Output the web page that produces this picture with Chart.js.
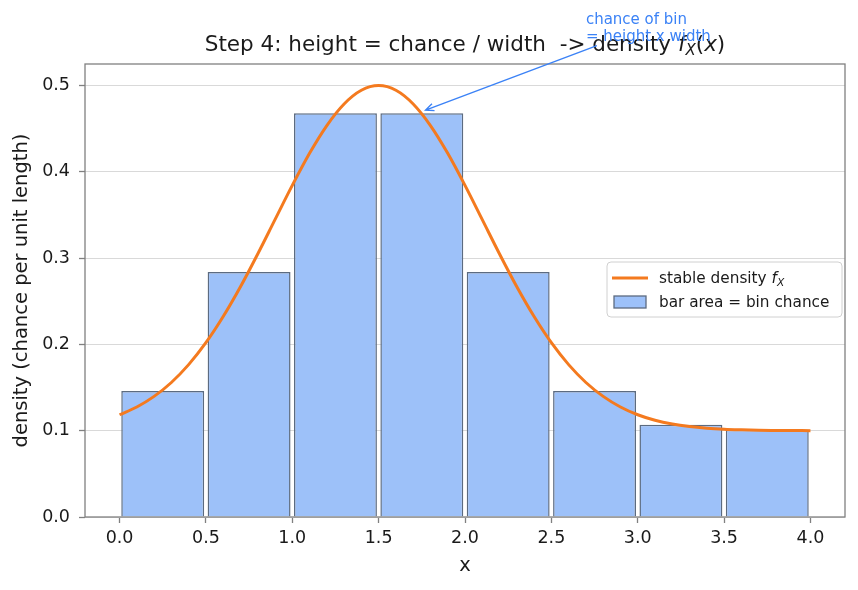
<!DOCTYPE html>
<html>
<head>
<meta charset="utf-8">
<script src="https://cdn.jsdelivr.net/npm/chart.js@4/dist/chart.umd.min.js"></script>
<style>
  html, body { margin: 0; padding: 0; background: #ffffff; }
  #wrap { width: 858px; height: 590px; position: relative; }
</style>
</head>
<body>
<div id="wrap"><canvas id="c" width="858" height="590"></canvas></div>
<script>
// ---- data ----
const binCenters = [0.25, 0.75, 1.25, 1.75, 2.25, 2.75, 3.25, 3.75];
const barHeights = [0.146, 0.284, 0.468, 0.468, 0.284, 0.146, 0.107, 0.101];
const curveX = [0.0, 0.1, 0.2, 0.3, 0.4, 0.5, 0.6, 0.7, 0.8, 0.9,
                1.0, 1.1, 1.2, 1.3, 1.4, 1.5, 1.6, 1.7, 1.8, 1.9,
                2.0, 2.1, 2.2, 2.3, 2.4, 2.5, 2.6, 2.7, 2.8, 2.9,
                3.0, 3.1, 3.2, 3.3, 3.4, 3.5, 3.6, 3.7, 3.8, 3.9, 4.0];
const curveY = [0.1185, 0.1275, 0.1398, 0.1559, 0.1766, 0.2020, 0.2323, 0.2668, 0.3048, 0.3446,
                0.3843, 0.4215, 0.4537, 0.4787, 0.4946, 0.5000, 0.4946, 0.4787, 0.4537, 0.4215,
                0.3843, 0.3446, 0.3048, 0.2668, 0.2323, 0.2020, 0.1766, 0.1559, 0.1398, 0.1275,
                0.1185, 0.1121, 0.1077, 0.1048, 0.1029, 0.1017, 0.1010, 0.1005, 0.1003, 0.1002, 0.1001];
const xTicks = [0.0, 0.5, 1.0, 1.5, 2.0, 2.5, 3.0, 3.5, 4.0];
const yTicks = [0.0, 0.1, 0.2, 0.3, 0.4, 0.5];
const annotationPoint = [1.75, 0.47];
const annotationTextPos = [2.7, 0.552];
const annotationLines = ['chance of bin', '= height x width'];

// ---- styles ----
const FONT = "'DejaVu Sans', 'Liberation Sans', sans-serif";
const TEXT = '#1a1a1a';
const ORANGE = '#f47a1f';
const BAR_FILL = '#9dc1f9';
const BAR_EDGE = '#5c6b80';
const BLUE = '#3b82f6';
const SPINE = '#808080';

Chart.defaults.font.family = FONT;
Chart.defaults.color = TEXT;

function drawMixed(ctx, parts, x, y, align) {
  let total = 0;
  const widths = parts.map(p => { ctx.font = p[1]; const w = ctx.measureText(p[0]).width; total += w; return w; });
  let cx = align === 'center' ? x - total / 2 : x;
  parts.forEach((p, i) => {
    ctx.font = p[1];
    ctx.fillText(p[0], cx, y + (p[2] || 0));
    cx += widths[i];
  });
}

const decorPlugin = {
  id: 'decor',
  afterDatasetsDraw(chart) {
    const ctx = chart.ctx;
    const a = chart.chartArea;
    const xs = chart.scales.x, ys = chart.scales.y;
    ctx.save();
    // frame
    ctx.strokeStyle = SPINE;
    ctx.lineWidth = 1.3;
    ctx.strokeRect(a.left, a.top, a.right - a.left, a.bottom - a.top);

    // title
    ctx.fillStyle = TEXT;
    ctx.textBaseline = 'alphabetic';
    ctx.textAlign = 'left';
    const tf = "21.5px " + FONT, ti = "italic 21.5px " + FONT, ts = "italic 15px " + FONT;
    drawMixed(ctx, [
      ['Step 4: height = chance / width  -> density ', tf, 0],
      ['f', ti, 0], ['X', ts, 4], ['(', tf, 0], ['x', ti, 0], [')', tf, 0]
    ], (a.left + a.right) / 2, 51, 'center');

    // annotation text
    const tx = xs.getPixelForValue(annotationTextPos[0]);
    const ty = ys.getPixelForValue(annotationTextPos[1]);
    ctx.fillStyle = BLUE;
    ctx.font = "15px " + FONT;
    ctx.fillText(annotationLines[0], tx, ty - 17);
    ctx.fillText(annotationLines[1], tx, ty);

    // arrow
    const hx0 = xs.getPixelForValue(annotationPoint[0]);
    const hy0 = ys.getPixelForValue(annotationPoint[1]);
    const sx = tx + 11, sy = ty + 5;
    const dx = sx - hx0, dy = sy - hy0, len = Math.hypot(dx, dy);
    const ux = dx / len, uy = dy / len;
    const hx = hx0 + ux * 4, hy = hy0 + uy * 4;
    ctx.strokeStyle = BLUE;
    ctx.lineWidth = 1.4;
    ctx.beginPath();
    ctx.moveTo(sx, sy); ctx.lineTo(hx, hy);
    const ang = Math.atan2(uy, ux), hl = 9, ha = 0.42;
    ctx.moveTo(hx + hl * Math.cos(ang + ha), hy + hl * Math.sin(ang + ha));
    ctx.lineTo(hx, hy);
    ctx.lineTo(hx + hl * Math.cos(ang - ha), hy + hl * Math.sin(ang - ha));
    ctx.stroke();

    // legend
    const lx = 607, ly = 262, lw = 235, lh = 55;
    ctx.beginPath();
    if (ctx.roundRect) ctx.roundRect(lx, ly, lw, lh, 4); else ctx.rect(lx, ly, lw, lh);
    ctx.fillStyle = 'rgba(255,255,255,0.85)';
    ctx.fill();
    ctx.strokeStyle = '#d0d0d0';
    ctx.lineWidth = 1;
    ctx.stroke();
    ctx.strokeStyle = ORANGE; ctx.lineWidth = 3;
    ctx.beginPath(); ctx.moveTo(612, 278); ctx.lineTo(648, 278); ctx.stroke();
    ctx.fillStyle = TEXT;
    drawMixed(ctx, [
      ['stable density ', "15.3px " + FONT, 0],
      ['f', "italic 15.3px " + FONT, 0],
      ['X', "italic 10.7px " + FONT, 3]
    ], 659, 283, 'left');
    ctx.fillStyle = BAR_FILL; ctx.strokeStyle = BAR_EDGE; ctx.lineWidth = 1.3;
    ctx.fillRect(614, 296, 32, 12); ctx.strokeRect(614, 296, 32, 12);
    ctx.fillStyle = TEXT;
    ctx.font = "15.3px " + FONT;
    ctx.fillText('bar area = bin chance', 659, 307);
    ctx.restore();
  }
};

new Chart(document.getElementById('c'), {
  type: 'bar',
  data: {
    datasets: [
      {
        type: 'line',
        label: 'stable density',
        data: curveX.map((x, i) => ({ x: x, y: curveY[i] })),
        borderColor: ORANGE,
        borderWidth: 3,
        pointRadius: 0,
        cubicInterpolationMode: 'monotone',
        fill: false,
        order: 0
      },
      {
        type: 'bar',
        label: 'bar area = bin chance',
        data: binCenters.map((x, i) => ({ x: x, y: barHeights[i] })),
        backgroundColor: BAR_FILL,
        borderColor: BAR_EDGE,
        borderWidth: 1.5,
        barPercentage: 0.96,
        categoryPercentage: 1.0,
        order: 1
      }
    ]
  },
  options: {
    responsive: false,
    animation: false,
    events: [],
    layout: { padding: { left: 0, right: 13, top: 64, bottom: 0 } },
    plugins: { legend: { display: false }, title: { display: false }, tooltip: { enabled: false } },
    scales: {
      x: {
        type: 'linear',
        min: -0.2, max: 4.2,
        offset: false,
        afterBuildTicks: s => { s.ticks = xTicks.map(v => ({ value: v })); },
        afterFit: s => { s.height = 73; },
        ticks: {
          font: { size: 17.5 }, color: TEXT, padding: 5, maxRotation: 0,
          callback: v => v.toFixed(1)
        },
        grid: { display: true, offset: false, drawOnChartArea: false, drawTicks: true, tickLength: 6, tickColor: SPINE, tickWidth: 1.3 },
        border: { display: false },
        title: { display: true, text: 'x', font: { size: 19.5 }, color: TEXT, padding: { top: 0, bottom: 12 } }
      },
      y: {
        type: 'linear',
        min: 0, max: 0.525,
        afterBuildTicks: s => { s.ticks = yTicks.map(v => ({ value: v })); },
        afterFit: s => { s.width = 85; },
        ticks: {
          font: { size: 17.5 }, color: TEXT, padding: 9,
          callback: v => v.toFixed(1)
        },
        grid: { display: true, color: '#d9d9d9', lineWidth: 1, drawTicks: true, tickLength: 6, tickColor: SPINE, tickWidth: 1.3 },
        border: { display: false },
        title: { display: true, text: 'density (chance per unit length)', font: { size: 19.5 }, color: TEXT, padding: { top: 10, bottom: 0 } }
      }
    }
  },
  plugins: [decorPlugin]
});
</script>
</body>
</html>
